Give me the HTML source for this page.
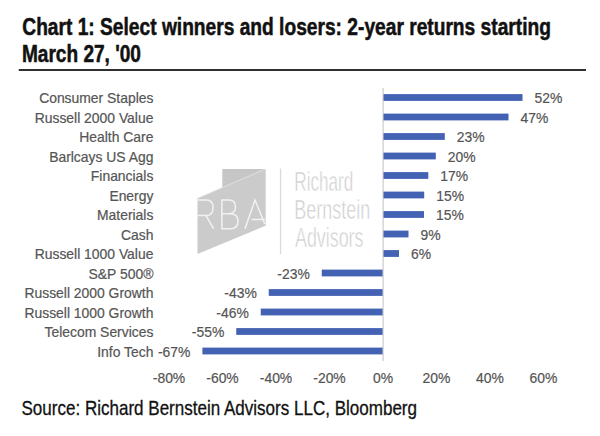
<!DOCTYPE html>
<html><head><meta charset="utf-8"><style>
html,body{margin:0;padding:0;background:#fff;width:600px;height:436px;overflow:hidden}
svg{display:block}
text{font-family:"Liberation Sans",sans-serif}
.t{font-weight:bold;font-size:23px;fill:#111;stroke:#111;stroke-width:0.5px}
.l{font-size:13.9px;fill:#555;stroke:#555;stroke-width:0.2px}
.v{font-size:13.9px;fill:#555;stroke:#555;stroke-width:0.2px}
.s{font-size:19.8px;fill:#111;stroke:#111;stroke-width:0.3px}
.w{font-size:27px;fill:#cdcdcd;stroke:#fff;stroke-width:0.6px}
</style></head><body>
<svg width="600" height="436" viewBox="0 0 600 436">
<text x="22.3" y="35" class="t" textLength="528.6" lengthAdjust="spacingAndGlyphs">Chart 1: Select winners and losers: 2-year returns starting</text>
<text x="21.9" y="61.5" class="t" textLength="119.1" lengthAdjust="spacingAndGlyphs">March 27, '00</text>
<rect x="18.75" y="69" width="567.25" height="2" fill="#303030"/>
<g>
<polygon points="222.3,169 265.4,169 265.4,226 222.3,226" fill="#c6c6c6"/>
<polygon points="197.5,198.3 265.4,169 265.4,225.8 197.5,254" fill="#cbcbcb"/>
<line x1="197.5" y1="198.3" x2="265.4" y2="169" stroke="#e6e6e6" stroke-width="0.8"/>
<g fill="none" stroke="#f2f2f2" stroke-width="1.5">
<path d="M197.8,200 L206.5,200 Q213,200 213,207.5 Q213,215.6 206.5,215.6 L197.8,215.6 M206,215.6 L213.7,228.8"/>
<path d="M221.9,228.8 L221.9,200 L229,200 Q235.5,200 235.5,206.8 Q235.5,213.7 229,213.7 L221.9,213.7 L230,213.7 Q238,213.7 238,221.2 Q238,228.8 230,228.8 Z"/>
<path d="M245,228.8 L255,200 L264.8,224 M251.5,219.4 L265,219.4"/>
</g>
<rect x="279.9" y="168.5" width="1.3" height="85.5" fill="#dadada"/>
<text x="294.3" y="191.3" class="w" textLength="59" lengthAdjust="spacingAndGlyphs">Richard</text>
<text x="294.2" y="219.1" class="w" textLength="76" lengthAdjust="spacingAndGlyphs">Bernstein</text>
<text x="295" y="247.1" class="w" textLength="68.5" lengthAdjust="spacingAndGlyphs">Advisors</text>
</g>
<rect x="382.5" y="88" width="1.2" height="273" fill="#cbcbcb"/>
<rect x="383.50" y="94.10" width="139.00" height="6.8" fill="#4462b4"/>
<text x="153.4" y="103.00" class="l" text-anchor="end">Consumer Staples</text>
<text x="534.50" y="103.00" class="v">52%</text>
<rect x="383.50" y="113.60" width="125.00" height="6.8" fill="#4462b4"/>
<text x="153.4" y="122.50" class="l" text-anchor="end">Russell 2000 Value</text>
<text x="520.50" y="122.50" class="v">47%</text>
<rect x="383.50" y="133.10" width="61.30" height="6.8" fill="#4462b4"/>
<text x="153.4" y="142.00" class="l" text-anchor="end">Health Care</text>
<text x="456.80" y="142.00" class="v">23%</text>
<rect x="383.50" y="152.60" width="52.30" height="6.8" fill="#4462b4"/>
<text x="153.4" y="161.50" class="l" text-anchor="end">Barlcays US Agg</text>
<text x="447.80" y="161.50" class="v">20%</text>
<rect x="383.50" y="172.10" width="44.80" height="6.8" fill="#4462b4"/>
<text x="153.4" y="181.00" class="l" text-anchor="end">Financials</text>
<text x="440.30" y="181.00" class="v">17%</text>
<rect x="383.50" y="191.60" width="40.70" height="6.8" fill="#4462b4"/>
<text x="153.4" y="200.50" class="l" text-anchor="end">Energy</text>
<text x="436.20" y="200.50" class="v">15%</text>
<rect x="383.50" y="211.10" width="40.50" height="6.8" fill="#4462b4"/>
<text x="153.4" y="220.00" class="l" text-anchor="end">Materials</text>
<text x="436.00" y="220.00" class="v">15%</text>
<rect x="383.50" y="230.60" width="25.00" height="6.8" fill="#4462b4"/>
<text x="153.4" y="239.50" class="l" text-anchor="end">Cash</text>
<text x="420.50" y="239.50" class="v">9%</text>
<rect x="383.50" y="250.10" width="15.50" height="6.8" fill="#4462b4"/>
<text x="153.4" y="259.00" class="l" text-anchor="end">Russell 1000 Value</text>
<text x="411.00" y="259.00" class="v">6%</text>
<rect x="321.75" y="269.60" width="60.85" height="6.8" fill="#4462b4"/>
<text x="153.4" y="278.50" class="l" text-anchor="end">S&amp;P 500®</text>
<text x="309.75" y="278.50" class="v" text-anchor="end">-23%</text>
<rect x="268.75" y="289.10" width="113.85" height="6.8" fill="#4462b4"/>
<text x="153.4" y="298.00" class="l" text-anchor="end">Russell 2000 Growth</text>
<text x="256.75" y="298.00" class="v" text-anchor="end">-43%</text>
<rect x="260.75" y="308.60" width="121.85" height="6.8" fill="#4462b4"/>
<text x="153.4" y="317.50" class="l" text-anchor="end">Russell 1000 Growth</text>
<text x="248.75" y="317.50" class="v" text-anchor="end">-46%</text>
<rect x="236.25" y="328.10" width="146.35" height="6.8" fill="#4462b4"/>
<text x="153.4" y="337.00" class="l" text-anchor="end">Telecom Services</text>
<text x="224.25" y="337.00" class="v" text-anchor="end">-55%</text>
<rect x="202.40" y="347.60" width="180.20" height="6.8" fill="#4462b4"/>
<text x="153.4" y="356.50" class="l" text-anchor="end">Info Tech</text>
<text x="190.40" y="356.50" class="v" text-anchor="end">-67%</text>
<text x="169.00" y="383" class="v" text-anchor="middle">-80%</text>
<text x="222.50" y="383" class="v" text-anchor="middle">-60%</text>
<text x="276.00" y="383" class="v" text-anchor="middle">-40%</text>
<text x="329.50" y="383" class="v" text-anchor="middle">-20%</text>
<text x="383.00" y="383" class="v" text-anchor="middle">0%</text>
<text x="436.50" y="383" class="v" text-anchor="middle">20%</text>
<text x="490.00" y="383" class="v" text-anchor="middle">40%</text>
<text x="543.50" y="383" class="v" text-anchor="middle">60%</text>
<text x="21.5" y="414.5" class="s" textLength="395.5" lengthAdjust="spacingAndGlyphs">Source: Richard Bernstein Advisors LLC, Bloomberg</text>
</svg>
</body></html>
